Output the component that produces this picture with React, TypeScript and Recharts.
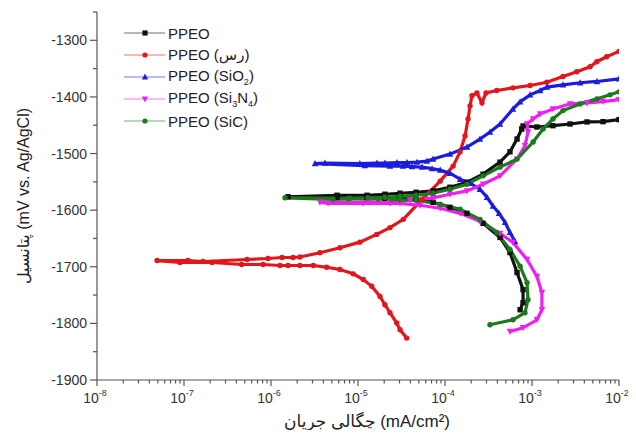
import React from 'react';
import { LineChart, Line, XAxis, YAxis, Label } from 'recharts';

const FONT = '"Liberation Sans", Arial, "DejaVu Sans", sans-serif';

// ---- data (current density mA/cm2, potential mV vs Ag/AgCl), scan order ----
const ppeoCurrent = [7.3e-4, 7.89e-4, 7.89e-4, 6.73e-4, 5.58e-4, 4.29e-4, 2.74e-4, 1.79e-4, 1.14e-4, 7.3e-5, 4.65e-5, 3.04e-5, 2.04e-5, 1.27e-5, 5.74e-6, 1.57e-6, 5.74e-6, 1.27e-5, 2.04e-5, 3.04e-5, 4.65e-5, 7.3e-5, 1.14e-4, 1.79e-4, 2.74e-4, 4.29e-4, 5.58e-4, 6.73e-4, 7.62e-4, 7.89e-4, 1.14e-3, 1.74e-3, 2.74e-3, 4.29e-3, 6.55e-3, 1.0e-2];
const ppeoPotential = [-1775.9, -1763.4, -1740.4, -1710.2, -1674.8, -1648.2, -1623.3, -1605.6, -1595, -1586.1, -1580.8, -1579, -1579, -1578.1, -1577.2, -1576.3, -1573.7, -1573.7, -1571.9, -1570.1, -1568.4, -1566, -1559.5, -1550.6, -1536.4, -1515.2, -1497, -1474.4, -1456.6, -1451.3, -1453.1, -1450.8, -1447.8, -1444.2, -1443.7, -1440.1];

const clayCurrent = [3.63e-5, 3.04e-5, 2.79e-5, 2.33e-5, 2.04e-5, 1.79e-5, 1.44e-5, 1.15e-5, 8.8e-6, 6.2e-6, 4.36e-6, 3.06e-6, 2.15e-6, 1.57e-6, 1.27e-6, 8.1e-7, 4.6e-7, 2.1e-7, 9.0e-8, 4.9e-8, 1.11e-7, 1.65e-7, 5.3e-7, 9.25e-7, 1.34e-6, 1.79e-6, 2.15e-6, 3.65e-6, 6.2e-6, 1.05e-5, 1.64e-5, 2.33e-5, 3.32e-5, 5.45e-5, 8.8e-5, 1.24e-4, 1.49e-4, 1.7e-4, 1.84e-4, 1.94e-4, 2.04e-4, 2.33e-4, 2.66e-4, 2.96e-4, 3.93e-4, 6.05e-4, 9.5e-4, 1.48e-3, 2.27e-3, 3.27e-3, 4.65e-3, 5.55e-3, 7.2e-3, 1.0e-2];
const clayPotential = [-1826, -1811.3, -1799.4, -1781.2, -1767, -1752.3, -1734.5, -1722.6, -1712.5, -1704.9, -1700.8, -1697.8, -1697.8, -1697.8, -1697.8, -1696, -1696, -1692.5, -1692.5, -1689, -1689, -1690.7, -1687.2, -1685.4, -1683.6, -1683.6, -1682.7, -1675.3, -1666.4, -1656.5, -1642.8, -1630.9, -1616.2, -1580.8, -1548.8, -1522.2, -1497, -1469, -1439, -1415.8, -1398, -1393, -1410.5, -1393, -1388.7, -1384, -1379.8, -1374, -1364, -1355.5, -1346.7, -1337.8, -1329, -1319.5];

const sio2Current = [6.38e-4, 5.58e-4, 4.9e-4, 4.18e-4, 3.56e-4, 3.04e-4, 2.52e-4, 1.94e-4, 1.49e-4, 1.14e-4, 8.8e-5, 7.1e-5, 5.45e-5, 4.18e-5, 3.29e-5, 2.33e-5, 1.2e-5, 3.21e-6, 4.18e-6, 1.05e-5, 1.65e-5, 2.04e-5, 2.8e-5, 3.66e-5, 4.76e-5, 6.2e-5, 7.3e-5, 1.14e-4, 1.79e-4, 2.52e-4, 3.29e-4, 4.29e-4, 6.05e-4, 7.3e-4, 9.5e-4, 1.24e-3, 1.49e-3, 2.27e-3, 3.57e-3, 5.58e-3, 1.0e-2];
const sio2Potential = [-1655.3, -1639.3, -1621.6, -1605.6, -1592.6, -1577.2, -1563, -1552.4, -1545.3, -1534.7, -1529.3, -1526.7, -1524, -1523, -1522.2, -1522.2, -1521.4, -1517.8, -1516.9, -1517.8, -1516.9, -1516.9, -1516, -1516, -1515.2, -1513.4, -1509.8, -1501, -1488.5, -1474.4, -1462, -1447.8, -1421.2, -1408.7, -1396.3, -1388.7, -1382.7, -1378.6, -1375, -1372.7, -1368];

const si3n4Current = [5.58e-4, 7.89e-4, 1.14e-3, 1.3e-3, 1.3e-3, 1.14e-3, 8.77e-4, 6.05e-4, 4.29e-4, 2.52e-4, 1.49e-4, 8.8e-5, 5.16e-5, 3.04e-5, 2.33e-5, 1.14e-5, 4.52e-6, 3.65e-6, 1.37e-5, 2.33e-5, 3.96e-5, 7.3e-5, 1.14e-4, 1.79e-4, 2.74e-4, 4.29e-4, 6.73e-4, 8.3e-4, 9.0e-4, 8.77e-4, 1.03e-3, 1.24e-3, 1.74e-3, 2.74e-3, 4.29e-3, 6.55e-3, 1.0e-2];
const si3n4Potential = [-1814.3, -1807.8, -1793.6, -1775.9, -1745.7, -1717.3, -1687.2, -1657, -1641.1, -1619.8, -1605.6, -1596.7, -1591.4, -1587.9, -1587.9, -1587.9, -1587.9, -1586.1, -1586.1, -1586.1, -1582.5, -1578.2, -1571.9, -1566, -1554.2, -1539.4, -1509.8, -1486.2, -1462, -1447.8, -1439, -1430, -1421.2, -1412.3, -1410.5, -1408.2, -1404.7];

const sicCurrent = [3.29e-4, 6.05e-4, 8.3e-4, 9.0e-4, 8.77e-4, 7.3e-4, 5.58e-4, 3.96e-4, 2.52e-4, 1.49e-4, 8.8e-5, 4.65e-5, 3.04e-5, 2.46e-5, 1.7e-5, 7.67e-6, 5.16e-6, 1.45e-6, 8.1e-6, 1.3e-5, 2.04e-5, 3.04e-5, 4.65e-5, 7.3e-5, 1.14e-4, 1.79e-4, 2.74e-4, 4.29e-4, 6.73e-4, 1.03e-3, 1.34e-3, 1.74e-3, 2.27e-3, 3.57e-3, 5.58e-3, 7.89e-3, 1.0e-2];
const sicPotential = [-1802.5, -1793.6, -1781.2, -1758.1, -1728, -1699.1, -1669.4, -1640, -1616.2, -1598.5, -1589.6, -1582.5, -1581.7, -1580.8, -1580, -1580, -1580.8, -1578.2, -1579, -1578, -1577.2, -1575.5, -1573.7, -1570.1, -1563, -1554.2, -1539.4, -1524, -1509.8, -1479.7, -1456.6, -1439, -1424.2, -1412.3, -1403.4, -1396.3, -1391];

const xMajorTicks = [1e-8, 1e-7, 1e-6, 1e-5, 1e-4, 1e-3, 1e-2];
const yMajorTicks = [-1900, -1800, -1700, -1600, -1500, -1400, -1300];
const yMinorTicks = [-1850, -1750, -1650, -1550, -1450, -1350, -1250];

// ---- derived structures ----
const zip = (xs: number[], ys: number[]) =>
  xs.slice(0, Math.min(xs.length, ys.length)).map((x, i) => ({ x, y: ys[i] }));

const xTicks: number[] = [];
xMajorTicks.forEach((t, i) => {
  xTicks.push(t);
  if (i < xMajorTicks.length - 1) {
    for (let m = 2; m <= 9; m++) xTicks.push(Number((m * t).toPrecision(3)));
  }
});
const yTicks = [...yMajorTicks, ...yMinorTicks].sort((a, b) => a - b);

type Shape = 'square' | 'circle' | 'triangle' | 'down' | 'diamond';

const series: { key: string; name: React.ReactNode; color: string; shape: Shape; data: { x: number; y: number }[] }[] = [
  { key: 'ppeo', name: 'PPEO', color: '#111111', shape: 'square', data: zip(ppeoCurrent, ppeoPotential) },
  { key: 'clay', name: 'PPEO (رس)', color: '#e3161b', shape: 'circle', data: zip(clayCurrent, clayPotential) },
  { key: 'sio2', name: <>PPEO (SiO<sub style={{ fontSize: 9 }}>2</sub>)</>, color: '#1c1ce0', shape: 'triangle', data: zip(sio2Current, sio2Potential) },
  { key: 'si3n4', name: <>PPEO (Si<sub style={{ fontSize: 9 }}>3</sub>N<sub style={{ fontSize: 9 }}>4</sub>)</>, color: '#ee20ee', shape: 'down', data: zip(si3n4Current, si3n4Potential) },
  { key: 'sic', name: 'PPEO (SiC)', color: '#1c7a1c', shape: 'circle', data: zip(sicCurrent, sicPotential) },
];

function markerPath(shape: Shape, cx: number, cy: number, s: number) {
  switch (shape) {
    case 'square':
      return `M${cx - s},${cy - s}h${2 * s}v${2 * s}h${-2 * s}Z`;
    case 'triangle':
      return `M${cx},${cy - s * 1.3}L${cx + s * 1.2},${cy + s}L${cx - s * 1.2},${cy + s}Z`;
    case 'down':
      return `M${cx},${cy + s * 1.3}L${cx + s * 1.2},${cy - s}L${cx - s * 1.2},${cy - s}Z`;
    case 'diamond':
      return `M${cx},${cy - s * 1.3}L${cx + s * 1.3},${cy}L${cx},${cy + s * 1.3}L${cx - s * 1.3},${cy}Z`;
    default:
      return `M${cx - s},${cy}a${s},${s} 0 1,0 ${2 * s},0a${s},${s} 0 1,0 ${-2 * s},0`;
  }
}

const makeDot = (shape: Shape, color: string) => (p: any) => {
  const { cx, cy, index } = p;
  if (cx == null || cy == null || isNaN(cx) || isNaN(cy)) return <g key={`d-${index}`} />;
  return <path key={`d-${index}`} d={markerPath(shape, cx, cy, 2.7)} fill={color} stroke="none" />;
};

const XTick = (props: any) => {
  const { x, y, payload } = props;
  const v = payload.value as number;
  const lg = Math.log10(v);
  const major = Math.abs(lg - Math.round(lg)) < 1e-6;
  return (
    <g>
      <line x1={x} x2={x} y1={y} y2={y + (major ? 6 : 3.5)} stroke="#555" strokeWidth={1.2} />
      {major && (
        <text x={x - 2} y={y + 23} textAnchor="middle" fontSize={14} fill="#333" fontFamily={FONT}>
          <tspan>10</tspan>
          <tspan dy={-7} fontSize={9}>{Math.round(lg)}</tspan>
        </text>
      )}
    </g>
  );
};

const YTick = (props: any) => {
  const { x, y, payload } = props;
  const v = payload.value as number;
  const major = v % 100 === 0;
  return (
    <g>
      <line x1={x} x2={x - (major ? 7 : 4)} y1={y} y2={y} stroke="#555" strokeWidth={1.2} />
      {major && (
        <text x={x - 10} y={y} dy={5} textAnchor="end" fontSize={14} fill="#333" fontFamily={FONT}>
          {v}
        </text>
      )}
    </g>
  );
};

const LegendBox = () => (
  <div
    style={{
      position: 'absolute',
      left: 124,
      top: 22,
      fontFamily: FONT,
      fontSize: 15,
      color: '#222',
      pointerEvents: 'none',
    }}
  >
    {series.map((s) => (
      <div key={s.key} style={{ display: 'flex', alignItems: 'center', height: 22, whiteSpace: 'nowrap' }}>
        <svg width={44} height={10} style={{ marginRight: 0 }}>
          <line x1={0} x2={41} y1={5} y2={5} stroke={s.color} strokeWidth={1.2} opacity={0.6} />
          <path d={markerPath(s.shape, 21, 5, 2.6)} fill={s.color} />
        </svg>
        <span>{s.name}</span>
      </div>
    ))}
  </div>
);

export default function App() {
  return (
    <div style={{ position: 'relative', width: 636, height: 438, margin: -8, overflow: 'hidden' }}>
      <LineChart width={636} height={438} margin={{ top: 12, right: 17, bottom: 0, left: 0 }}>
        <XAxis
          dataKey="x"
          type="number"
          scale="log"
          domain={[1e-8, 1e-2]}
          allowDataOverflow
          ticks={xTicks}
          interval={0}
          tick={<XTick />}
          tickLine={false}
          tickSize={0}
          tickMargin={0}
          height={58}
          axisLine={{ stroke: '#555', strokeWidth: 1.2 }}
        >
          <Label
            content={() => (
              <text x={367} y={427} textAnchor="middle" fontSize={17} fill="#222" fontFamily={FONT}>
                چگالی جریان (mA/cm²)
              </text>
            )}
          />
        </XAxis>
        <YAxis
          type="number"
          domain={[-1900, -1250]}
          allowDataOverflow
          ticks={yTicks}
          interval={0}
          tick={<YTick />}
          tickLine={false}
          tickSize={0}
          tickMargin={0}
          width={97}
          axisLine={{ stroke: '#555', strokeWidth: 1.2 }}
        >
          <Label
            content={() => (
              <text
                x={0}
                y={0}
                transform="translate(29,196) rotate(-90)"
                textAnchor="middle"
                fontSize={16}
                fill="#222"
                fontFamily={FONT}
              >
                پتانسیل (mV vs. Ag/AgCl)
              </text>
            )}
          />
        </YAxis>
        {series.map((s) => (
          <Line
            key={s.key}
            data={s.data}
            dataKey="y"
            type="linear"
            stroke={s.color}
            strokeWidth={3.2}
            dot={makeDot(s.shape, s.color)}
            activeDot={false}
            isAnimationActive={false}
          />
        ))}
      </LineChart>
      <LegendBox />
    </div>
  );
}
